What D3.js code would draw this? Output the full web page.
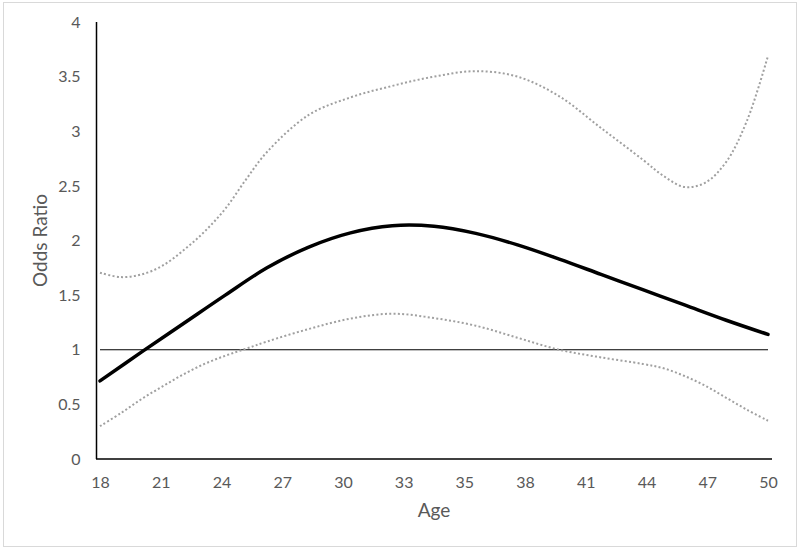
<!DOCTYPE html>
<html>
<head>
<meta charset="utf-8">
<script src="https://cdn.jsdelivr.net/npm/d3@7"></script>
<style>
  body { margin: 0; background: #fff; }
  svg text { font-family: Lato, "Open Sans", sans-serif; fill: #595959; }
</style>
</head>
<body>
<div id="chart"></div>
<script>
'use strict';

// values
const oddsAges  = [18, 20, 22, 24, 26, 28, 30, 32, 34, 36, 38, 40, 42, 44, 46, 48, 50];
const oddsRatio = [0.715, 0.98, 1.24, 1.50, 1.75, 1.94, 2.07, 2.135, 2.13, 2.065, 1.96, 1.83, 1.69, 1.55, 1.41, 1.27, 1.14];

const ciAges  = [18, 19, 20, 21, 22, 23, 24, 25, 26, 28, 30, 32, 34, 36, 38, 40, 42, 44, 45, 46, 47, 48, 49, 50];
const upperCI = [1.705, 1.665, 1.69, 1.77, 1.91, 2.08, 2.29, 2.56, 2.81, 3.15, 3.31, 3.415, 3.50, 3.55, 3.50, 3.32, 3.03, 2.74, 2.59, 2.49, 2.53, 2.72, 3.10, 3.69];
const lowerCI = [0.30, 0.42, 0.55, 0.665, 0.775, 0.87, 0.945, 1.01, 1.075, 1.19, 1.285, 1.33, 1.29, 1.22, 1.11, 1.00, 0.93, 0.87, 0.83, 0.76, 0.67, 0.56, 0.45, 0.35];

const referenceValue = 1;
const yTicks = [0, 0.5, 1, 1.5, 2, 2.5, 3, 3.5, 4];
const xTickCount = 12;

const width = 800, height = 550;
const margin = { top: 22, right: 32, bottom: 91, left: 100 };

const svg = d3.select('#chart').append('svg')
  .attr('width', width)
  .attr('height', height);

// outer frame
svg.append('rect')
  .attr('x', 3.5).attr('y', 2.5)
  .attr('width', 793).attr('height', 544)
  .attr('fill', '#fff')
  .attr('stroke', '#d9d9d9');

const x = d3.scaleLinear()
  .domain([18, 50])
  .range([margin.left, width - margin.right]);

const y = d3.scaleLinear()
  .domain([0, 4])
  .range([height - margin.bottom, margin.top]);

const xTickValues = d3.range(xTickCount).map(i => 18 + i * (50 - 18) / (xTickCount - 1));

// axes
const xAxis = svg.append('g')
  .attr('transform', 'translate(0,' + y(0) + ')')
  .call(d3.axisBottom(x).tickValues(xTickValues).tickFormat(d3.format('.0f')).tickSize(0).tickPadding(18));
xAxis.select('.domain').remove();
xAxis.selectAll('text').style('font-size', '16px');

svg.append('line')
  .attr('x1', x.range()[0] - 4).attr('x2', x.range()[1] + 4)
  .attr('y1', y(0)).attr('y2', y(0))
  .attr('stroke', '#000').attr('stroke-width', 1.5);

const yAxis = svg.append('g')
  .attr('transform', 'translate(' + (margin.left - 3.5) + ',0)')
  .call(d3.axisLeft(y).tickValues(yTicks).tickFormat(d3.format('')).tickSize(0).tickPadding(16));
yAxis.select('.domain').remove();
yAxis.selectAll('text').style('font-size', '16px');

svg.append('line')
  .attr('x1', margin.left - 3.5).attr('x2', margin.left - 3.5)
  .attr('y1', y(4)).attr('y2', y(0))
  .attr('stroke', '#000').attr('stroke-width', 1.5);

// reference line at OR = 1
svg.append('line')
  .attr('x1', x(18)).attr('x2', x(50))
  .attr('y1', y(referenceValue)).attr('y2', y(referenceValue))
  .attr('stroke', '#000').attr('stroke-width', 1);

const line = (xs, vals) => d3.line()
  .x((d, i) => x(xs[i]))
  .y(d => y(d))
  .curve(d3.curveCatmullRom.alpha(0.5))(vals);

[upperCI, lowerCI].forEach(vals => {
  svg.append('path')
    .attr('d', line(ciAges, vals))
    .attr('fill', 'none')
    .attr('stroke', '#a0a0a0')
    .attr('stroke-width', 2)
    .attr('stroke-dasharray', '2 2.3');
});

svg.append('path')
  .attr('d', line(oddsAges, oddsRatio))
  .attr('fill', 'none')
  .attr('stroke', '#000')
  .attr('stroke-width', 3.5)
  .attr('stroke-linecap', 'round');

// axis titles
svg.append('text')
  .attr('x', (x.range()[0] + x.range()[1]) / 2)
  .attr('y', 517)
  .attr('text-anchor', 'middle')
  .style('font-size', '19px')
  .text('Age');

svg.append('text')
  .attr('transform', 'translate(47,' + ((y.range()[0] + y.range()[1]) / 2) + ') rotate(-90)')
  .attr('text-anchor', 'middle')
  .style('font-size', '19px')
  .text('Odds Ratio');
</script>
</body>
</html>
